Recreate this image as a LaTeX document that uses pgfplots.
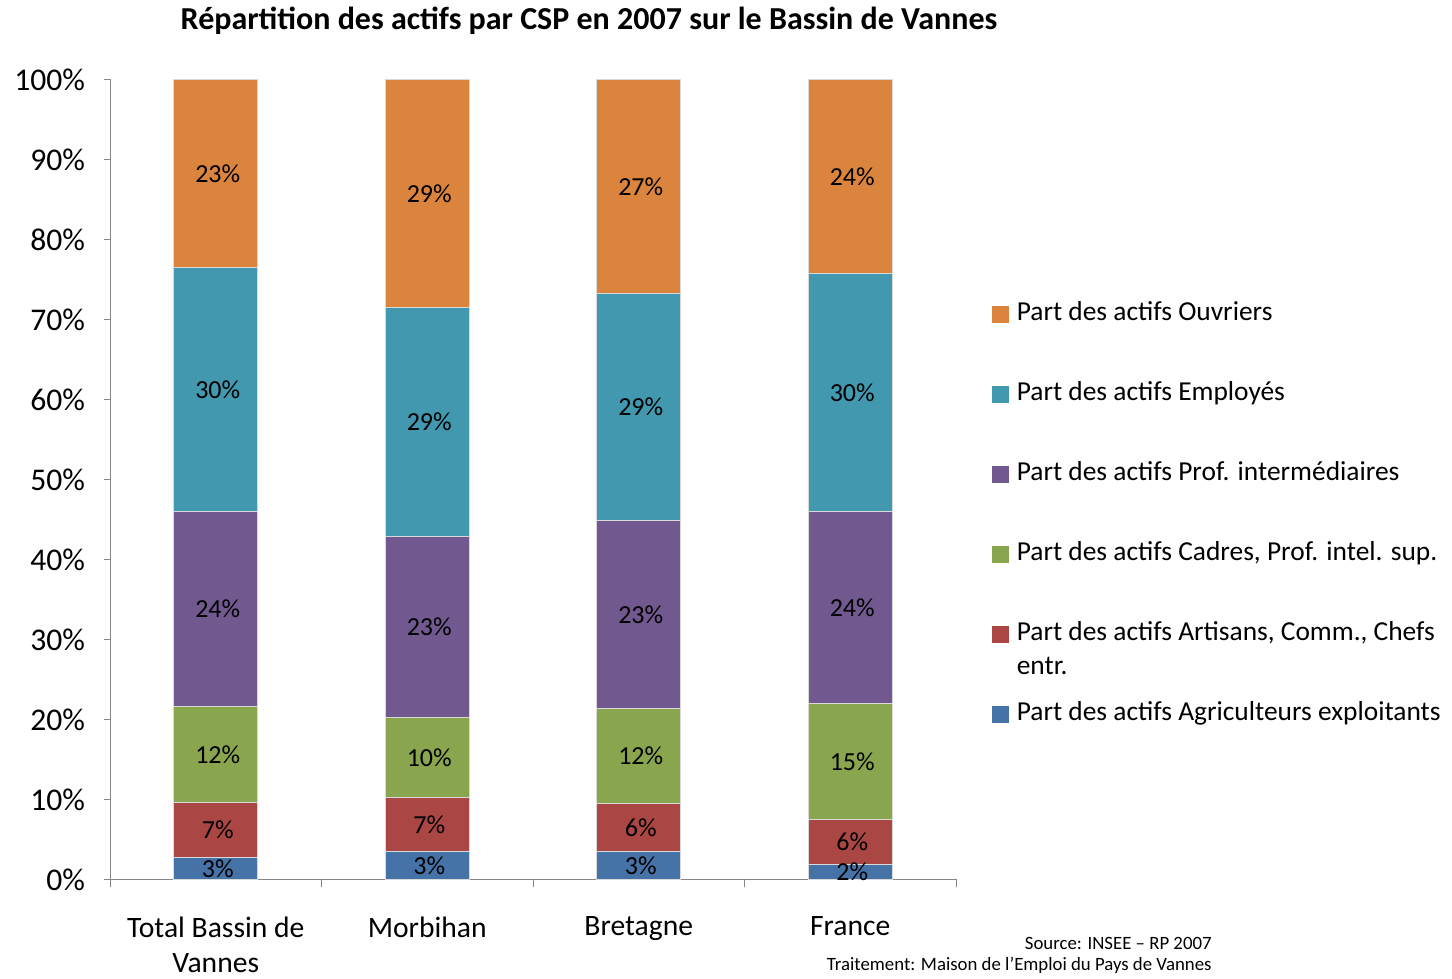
\documentclass[border=0pt]{standalone}
\usepackage{pgfplots}
\pgfplotsset{compat=1.18}
\usepackage{pgfplotstable}
\usepackage{fontspec}
\setmainfont{Carlito}
\definecolor{cAgri}{HTML}{4572A7}
\definecolor{cArt}{HTML}{AA4643}
\definecolor{cCad}{HTML}{89A54E}
\definecolor{cPI}{HTML}{71588F}
\definecolor{cEmp}{HTML}{4198AF}
\definecolor{cOuv}{HTML}{DB843D}
\definecolor{axgray}{HTML}{868686}
\pgfplotstableread{
x agri art cad pi emp ouv lagri lart lcad lpi lemp louv
0 2.75 6.875 12 24.375 30.5 23.5 3 7 12 24 30 23
1 3.5 6.75 10 22.625 28.625 28.5 3 7 10 23 29 29
2 3.5 6 11.875 23.5 28.375 26.75 3 6 12 23 29 27
3 1.875 5.625 14.5 24 29.75 24.25 2 6 15 24 30 24
}\data
\begin{document}
\begin{tikzpicture}
\begin{axis}[
  scale only axis, width=423pt, height=400pt,
  ybar stacked, bar width=42pt,
  xmin=-0.5, xmax=3.5, ymin=0, ymax=100,
  axis lines*=left,
  axis line style={axgray},
  every tick/.style={axgray},
  tick align=outside,
  xtick={0,1,2,3},
  xticklabels={{Total Bassin de\\Vannes},Morbihan,Bretagne,France},
  major x tick style={draw=none},
  minor xtick={-0.5,0.5,1.5,2.5,3.5},
  minor tick length=4pt,
  major tick length=3pt,
  xticklabel style={align=center, font=\fontsize{14.8}{17.5}\selectfont, yshift=-12pt},
  ytick={0,10,...,100},
  yticklabel={\pgfmathprintnumber{\tick}\%},
  yticklabel style={font=\fontsize{15.8}{18}\selectfont, xshift=-6pt},
  /pgf/number format/assume math mode=true,
  point meta=explicit symbolic,
  nodes near coords={\pgfplotspointmeta\%},
  every node near coord/.append style={anchor=center, xshift=1pt, font=\fontsize{13}{15}\selectfont, text=black},
  reverse legend,
  legend cell align=left,
  legend image code/.code={\fill[#1,draw=none] (0pt,-4.25pt) rectangle (8.5pt,4.25pt); \path (12pt,0pt);},
  legend style={draw=none, fill=none, at={(1.0426,0.7215)}, anchor=north west, inner sep=0pt,
    row sep=28pt,
    nodes={inner sep=0pt, text height=9pt, text depth=3pt, font=\fontsize{13.7}{17}\selectfont}},
]
\addplot[fill=cAgri, draw=white!85!black] table[x=x,y=agri,meta=lagri]{\data};
\addlegendentry{Part des actifs Agriculteurs exploitants}
\addplot[fill=cArt, draw=white!85!black] table[x=x,y=art,meta=lart]{\data};
\addlegendentry{\begin{tabular}[t]{@{}l@{}}Part des actifs Artisans, Comm., Chefs\\entr.\end{tabular}}
\addplot[fill=cCad, draw=white!85!black] table[x=x,y=cad,meta=lcad]{\data};
\addlegendentry{Part des actifs Cadres, Prof. intel. sup.}
\addplot[fill=cPI, draw=white!85!black] table[x=x,y=pi,meta=lpi]{\data};
\addlegendentry{Part des actifs Prof. intermédiaires}
\addplot[fill=cEmp, draw=white!85!black] table[x=x,y=emp,meta=lemp]{\data};
\addlegendentry{Part des actifs Employés}
\addplot[fill=cOuv, draw=white!85!black] table[x=x,y=ouv,meta=louv]{\data};
\addlegendentry{Part des actifs Ouvriers}
\end{axis}
\node[font=\bfseries\fontsize{16}{18}\selectfont] at (239.5pt,429.5pt) {Répartition des actifs par CSP en 2007 sur le Bassin de Vannes};
\node[font=\fontsize{9.4}{11}\selectfont, anchor=base east, inner sep=0pt] at (551pt,-35pt) {Source: INSEE – RP 2007};
\node[font=\fontsize{9.4}{11}\selectfont, anchor=base east, inner sep=0pt] at (551pt,-45.5pt) {Traitement: Maison de l’Emploi du Pays de Vannes};
\path[use as bounding box] (-55pt,-48.5pt) rectangle (671pt,439.5pt);
\end{tikzpicture}
\end{document}
